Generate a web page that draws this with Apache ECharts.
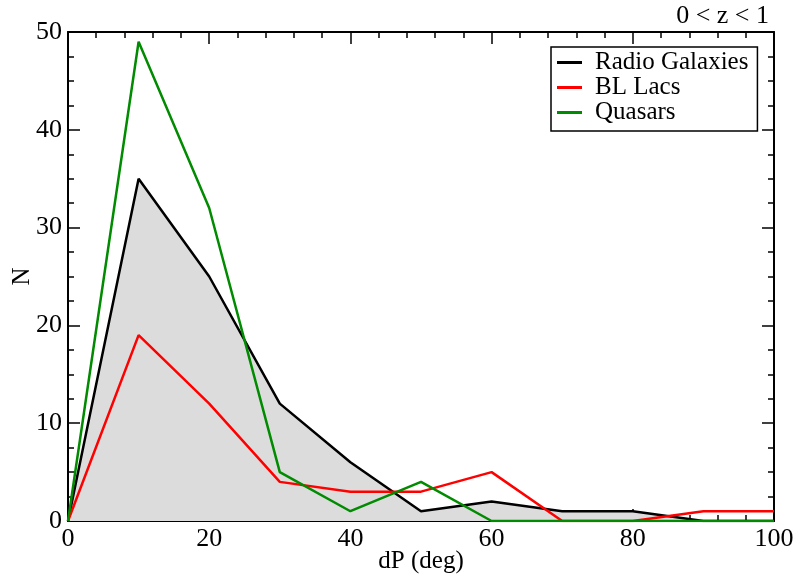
<!DOCTYPE html>
<html><head><meta charset="utf-8">
<script src="https://cdn.jsdelivr.net/npm/echarts@6/dist/echarts.min.js"></script>
<style>html,body{margin:0;padding:0;background:#fff}#c{width:797px;height:578px}</style>
</head><body><div id="c"></div>
<script>
const dP = [0,10,20,30,40,50,60,70,80,90,100];
const radioGalaxies = [0,35,25,12,6,1,2,1,1,0,0];
const blLacs = [0,19,12,4,3,3,5,0,0,1,1];
const quasars = [0,49,32,5,1,4,0,0,0,0,0];
const seriesNames = ['Radio Galaxies','BL Lacs','Quasars'];
const xTitle = 'dP (deg)';
const yTitle = 'N';
const annotation = '0 < z < 1';

const F = 'Liberation Serif';
const pair = arr => dP.map((x,i)=>[x,arr[i]]);
const axCommon = {
  axisLine:{show:true,onZero:false,lineStyle:{color:'#000',width:2}},
  axisTick:{show:true,inside:true,length:12,lineStyle:{color:'#000',width:1.5}},
  minorTick:{show:true,length:6,lineStyle:{color:'#000',width:1.5}},
  splitLine:{show:false}
};
const chart = echarts.init(document.getElementById('c'));
chart.setOption({
  animation:false,
  grid:{left:68,right:23,top:32,bottom:57,containLabel:false,outerBoundsMode:'none'},
  xAxis:[
    Object.assign({type:'value',min:0,max:100,interval:20,position:'bottom',
      name:xTitle,nameLocation:'middle',nameGap:28,nameMoveOverlap:false,
      nameTextStyle:{fontFamily:F,fontSize:25,color:'#000'},
      axisLabel:{fontFamily:F,fontSize:26,color:'#000',margin:5},
      minorTick:Object.assign({},axCommon.minorTick,{splitNumber:5})},
      {axisLine:axCommon.axisLine,axisTick:axCommon.axisTick,splitLine:axCommon.splitLine}),
    Object.assign({type:'value',min:0,max:100,interval:20,position:'top',
      axisLabel:{show:false},
      minorTick:Object.assign({},axCommon.minorTick,{splitNumber:5})},
      {axisLine:axCommon.axisLine,axisTick:axCommon.axisTick,splitLine:axCommon.splitLine})
  ],
  yAxis:[
    Object.assign({type:'value',min:0,max:50,interval:10,position:'left',
      name:yTitle,nameLocation:'middle',nameGap:33,nameMoveOverlap:false,
      nameTextStyle:{fontFamily:F,fontSize:25,color:'#000'},
      axisLabel:{fontFamily:F,fontSize:26,color:'#000',margin:6},
      minorTick:Object.assign({},axCommon.minorTick,{splitNumber:4})},
      {axisLine:axCommon.axisLine,axisTick:axCommon.axisTick,splitLine:axCommon.splitLine}),
    Object.assign({type:'value',min:0,max:50,interval:10,position:'right',
      axisLabel:{show:false},
      minorTick:Object.assign({},axCommon.minorTick,{splitNumber:4})},
      {axisLine:axCommon.axisLine,axisTick:axCommon.axisTick,splitLine:axCommon.splitLine})
  ],
  legend:{
    orient:'vertical',left:551,top:47,
    padding:[3,9,6,6],itemGap:0,itemWidth:25,itemHeight:3,
    borderColor:'#000',borderWidth:1.5,backgroundColor:'#fff',borderRadius:0,
    textStyle:{fontFamily:F,fontSize:25,color:'#000',lineHeight:24,padding:[0,0,0,8]},
    data:seriesNames.map(n=>({name:n,icon:'rect'}))
  },
  graphic:[{type:'text',right:28,top:3,style:{text:annotation,font:'26px "Liberation Serif"',fill:'#000'}}],
  series:[
    {name:seriesNames[0],type:'line',data:pair(radioGalaxies),symbol:'none',
      lineStyle:{color:'#000',width:2.5},itemStyle:{color:'#000'},
      areaStyle:{color:'#dcdcdc',opacity:1},z:2},
    {name:seriesNames[1],type:'line',data:pair(blLacs),symbol:'none',
      lineStyle:{color:'#ff0000',width:2.5},itemStyle:{color:'#ff0000'},z:3},
    {name:seriesNames[2],type:'line',data:pair(quasars),symbol:'none',
      lineStyle:{color:'#008b00',width:2.5},itemStyle:{color:'#008b00'},z:4}
  ]
});
</script></body></html>
